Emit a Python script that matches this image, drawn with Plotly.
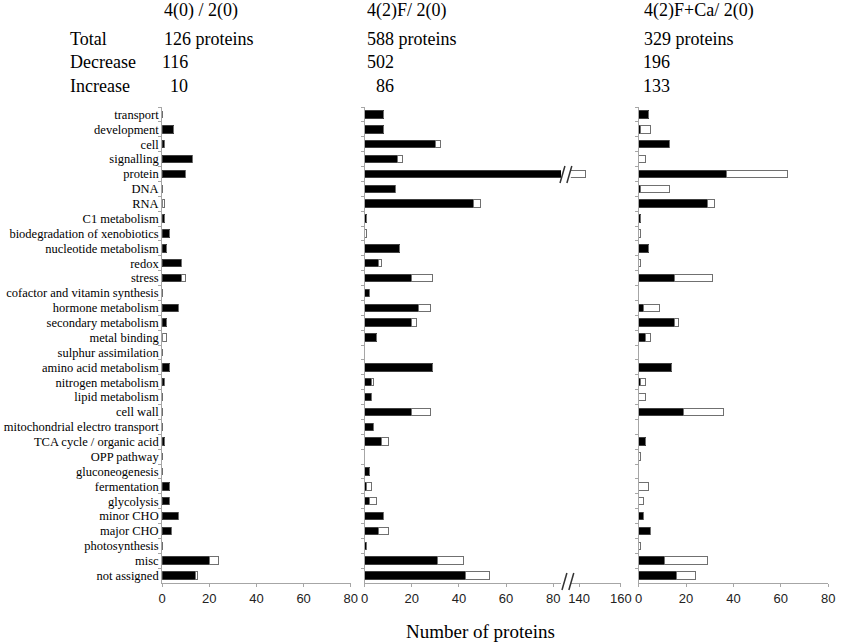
import plotly.graph_objects as go

# functional categories, top to bottom
categories = [
    "transport", "development", "cell", "signalling", "protein", "DNA", "RNA",
    "C1 metabolism", "biodegradation of xenobiotics", "nucleotide metabolism",
    "redox", "stress", "cofactor and vitamin synthesis", "hormone metabolism",
    "secondary metabolism", "metal binding", "sulphur assimilation",
    "amino acid metabolism", "nitrogen metabolism", "lipid metabolism",
    "cell wall", "mitochondrial electro transport", "TCA cycle / organic acid",
    "OPP pathway", "gluconeogenesis", "fermentation", "glycolysis", "minor CHO",
    "major CHO", "photosynthesis", "misc", "not assigned",
]

# 4(0) / 2(0)
dec_1 = [0, 5, 1, 13, 10, 0, 0, 1, 3, 2, 8, 8, 0, 7, 2, 0, 0, 3, 1, 0,
         0, 0, 1, 0, 0, 3, 3, 7, 4, 0, 20, 14]
inc_1 = [0, 0, 0, 0, 0, 0, 1, 0, 0, 0, 0, 2, 0, 0, 0, 2, 0, 0, 0, 0,
         0, 0, 0, 0, 0, 0, 0, 0, 0, 0, 4, 1]

# 4(2)F / 2(0)
dec_2 = [8, 8, 30, 14, 131, 13, 46, 1, 0, 15, 6, 20, 2, 23, 20, 5, 0, 29, 3, 3,
         20, 4, 7, 0, 2, 1, 2, 8, 6, 1, 31, 43]
inc_2 = [0, 0, 2, 2, 12, 0, 3, 0, 1, 0, 1, 9, 0, 5, 2, 0, 0, 0, 1, 0,
         8, 0, 3, 0, 0, 2, 3, 0, 4, 0, 11, 10]

# 4(2)F+Ca / 2(0)
dec_3 = [4, 1, 13, 0, 37, 1, 29, 1, 0, 4, 0, 15, 0, 2, 15, 3, 0, 14, 1, 0,
         19, 0, 3, 0, 0, 0, 0, 2, 5, 0, 11, 16]
inc_3 = [0, 4, 0, 3, 26, 12, 3, 0, 1, 0, 1, 16, 0, 7, 2, 2, 0, 0, 2, 3,
         17, 0, 0, 1, 0, 4, 2, 0, 0, 1, 18, 8]

panel_titles = ["4(0) / 2(0)", "4(2)F/ 2(0)", "4(2)F+Ca/ 2(0)"]
row_names = ["Total", "Decrease", "Increase"]
total_text = ["126 proteins", "588 proteins", "329 proteins"]
decrease_text = ["116", "502", "196"]
increase_text = ["10", "86", "133"]

ticks_main = [0, 20, 40, 60, 80]
ticks_break = [140, 160]

W, H = 851, 644
SERIF = "Liberation Serif, Times New Roman, serif"
SANS = "Liberation Sans, Arial, sans-serif"
GREY = "#a6a6a6"


def px(x):
    return x / W


def py(y):
    return 1 - y / H


fig = go.Figure()


def add_pair(dec, inc, xa, ya):
    fig.add_trace(go.Bar(y=categories, x=dec, orientation="h", xaxis=xa, yaxis=ya,
                         marker=dict(color="black", line=dict(color="#404040", width=1)),
                         width=0.5, showlegend=False, name="Decrease"))
    fig.add_trace(go.Bar(y=categories, x=inc, orientation="h", xaxis=xa, yaxis=ya,
                         marker=dict(color="white", line=dict(color="#707070", width=1)),
                         width=0.5, showlegend=False, name="Increase"))


add_pair(dec_1, inc_1, "x", "y")
add_pair(dec_2, inc_2, "x2", "y2")
add_pair(dec_2, inc_2, "x3", "y3")
add_pair(dec_3, inc_3, "x4", "y4")

y_dom = [py(583), py(107)]
xcommon = dict(showgrid=False, zeroline=False, showline=True, linecolor=GREY,
               linewidth=1, ticks="outside", ticklen=3, tickcolor=GREY,
               tickfont=dict(family=SANS, size=13, color="#222"))
ycommon = dict(type="category", categoryorder="array", categoryarray=categories,
               tickmode="array", tickvals=categories,
               range=[31.5, -0.5], domain=y_dom, showgrid=False, zeroline=False,
               tickson="boundaries", ticks="outside", ticklen=3, tickcolor=GREY,
               showline=True, linecolor=GREY, linewidth=1)

fig.update_layout(
    width=W, height=H, margin=dict(l=0, r=0, t=0, b=0),
    plot_bgcolor="white", paper_bgcolor="white", barmode="stack", bargap=0.5,
    xaxis=dict(xcommon, domain=[px(161), px(353)], range=[0, 80], tickvals=ticks_main, anchor="y"),
    xaxis2=dict(xcommon, domain=[px(367), px(567)], range=[0, 83.3], tickvals=ticks_main, anchor="y2"),
    xaxis3=dict(xcommon, domain=[px(577), px(628)], range=[136, 160], tickvals=ticks_break, anchor="y3"),
    xaxis4=dict(xcommon, domain=[px(646), px(839)], range=[0, 80], tickvals=ticks_main, anchor="y4"),
    yaxis=dict(ycommon, anchor="x", tickfont=dict(family=SERIF, size=12.5, color="black")),
    yaxis2=dict(ycommon, anchor="x2", showticklabels=False),
    yaxis3=dict(ycommon, anchor="x3", showticklabels=False, showline=False, ticks=""),
    yaxis4=dict(ycommon, anchor="x4", showticklabels=False),
)

# axis break marks on the protein bar and on the x axis
for x0 in (566, 573):
    fig.add_shape(type="line", xref="paper", yref="paper",
                  x0=px(x0), y0=py(183), x1=px(x0 + 5), y1=py(166),
                  line=dict(color="#333", width=1.5))
    fig.add_shape(type="line", xref="paper", yref="paper",
                  x0=px(x0 + 2), y0=py(590), x1=px(x0 + 7), y1=py(573),
                  line=dict(color="#333", width=1.5))

# header text
title_x = [161, 367, 649]
dec_right = [189, 399, 680]
hfont = dict(family=SERIF, size=18, color="black")
for i in range(3):
    fig.add_annotation(x=px(title_x[i]), y=py(11), text=panel_titles[i])
    fig.add_annotation(x=px(title_x[i]), y=py(39), text=total_text[i])
    fig.add_annotation(x=px(dec_right[i]), y=py(62), text=decrease_text[i], xanchor="right")
    fig.add_annotation(x=px(dec_right[i]), y=py(86), text=increase_text[i], xanchor="right")
for name, yy in zip(row_names, [39, 62, 86]):
    fig.add_annotation(x=px(65), y=py(yy), text=name)

fig.add_annotation(x=px(485), y=py(631), text="Number of proteins", xanchor="center",
                   font=dict(family=SERIF, size=19, color="black"))

fig.update_annotations(xref="paper", yref="paper", showarrow=False, yanchor="middle")
for a in fig.layout.annotations:
    if a.xanchor is None:
        a.xanchor = "left"
    if a.font.size is None:
        a.font = hfont

# drop the browser's default page margin so the figure sits at the window corner
fig.write_html("out.html", config={"displayModeBar": False},
               post_script="document.body.style.margin='0';document.body.style.overflow='hidden';")
